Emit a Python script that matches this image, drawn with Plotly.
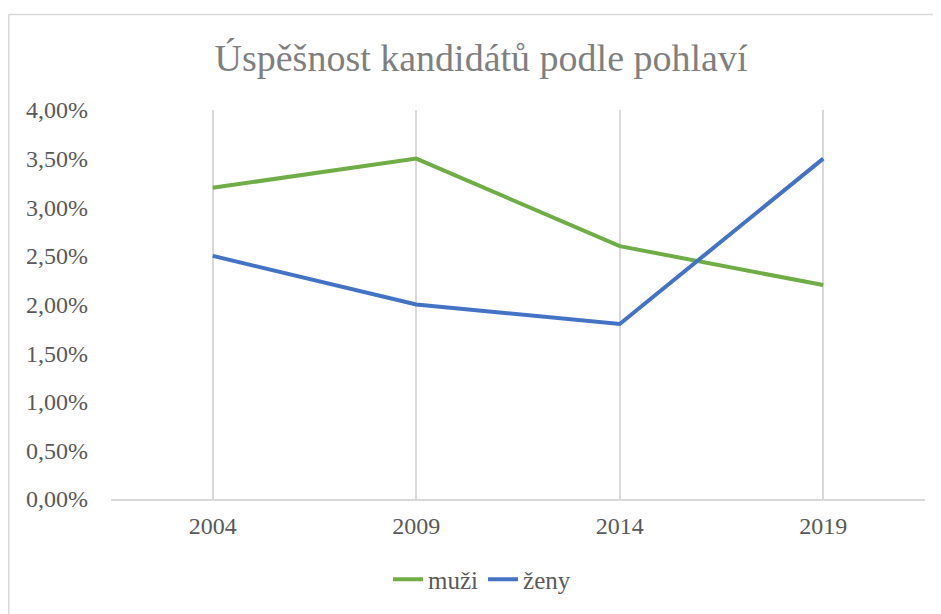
import plotly.graph_objects as go

years = ["2004", "2009", "2014", "2019"]
muzi = [0.032, 0.035, 0.026, 0.022]
zeny = [0.025, 0.020, 0.018, 0.035]

# page has an 8px body margin; coordinates below are relative to the figure
OFF = 8
W, H = 933, 606
L, T = 111 - OFF, 110 - OFF
R = W - (925 - OFF)
B = H - (501 - OFF)
pw, ph = W - L - R, H - T - B

font_family = "Liberation Serif, Times New Roman, serif"
gray = "#595959"

fig = go.Figure()
fig.add_trace(go.Scatter(x=years, y=muzi, name="muži", mode="lines",
                         line=dict(color="#70ad47", width=4)))
fig.add_trace(go.Scatter(x=years, y=zeny, name="ženy", mode="lines",
                         line=dict(color="#4472c4", width=4)))

# chart border (top and left visible)
bx0 = (8 - OFF - L) / pw + 0.001
by1 = 1 + (T - (14 - OFF)) / ph
fig.add_shape(type="line", xref="paper", yref="paper", x0=bx0, x1=1.2, y0=by1, y1=by1,
              line=dict(color="#d9d9d9", width=1.5))
fig.add_shape(type="line", xref="paper", yref="paper", x0=bx0, x1=bx0, y0=by1, y1=-0.5,
              line=dict(color="#d9d9d9", width=1.5))

fig.update_layout(
    width=W, height=H,
    margin=dict(l=L, r=R, t=T, b=B),
    paper_bgcolor="white", plot_bgcolor="white",
    separators=", ",
    font=dict(family=font_family, color=gray, size=24),
    title=dict(text="Úspěšnost kandidátů podle pohlaví",
               font=dict(family=font_family, color="#7f7f7f", size=38),
               x=(481 - OFF) / W, xanchor="center", xref="container",
               y=1 - (58 - OFF) / H, yanchor="middle", yref="container"),
    showlegend=True,
    legend=dict(orientation="h", x=(482 - OFF - L) / pw, xanchor="center",
                y=(501 - 582) / ph, yanchor="middle",
                font=dict(family=font_family, color=gray, size=25),
                bgcolor="rgba(0,0,0,0)"),
    xaxis=dict(type="category", range=[-0.5, 3.5], showgrid=True,
               gridcolor="#d9d9d9", gridwidth=1.5, showline=True,
               linecolor="#d9d9d9", linewidth=1.5, ticks="",
               ticklabelstandoff=4, zeroline=False),
    yaxis=dict(range=[0, 0.04], dtick=0.005, tickformat=".2%",
               showgrid=False, showline=False, zeroline=False, ticks="",
               ticklabelstandoff=22),
)

fig.write_html("out.html")
